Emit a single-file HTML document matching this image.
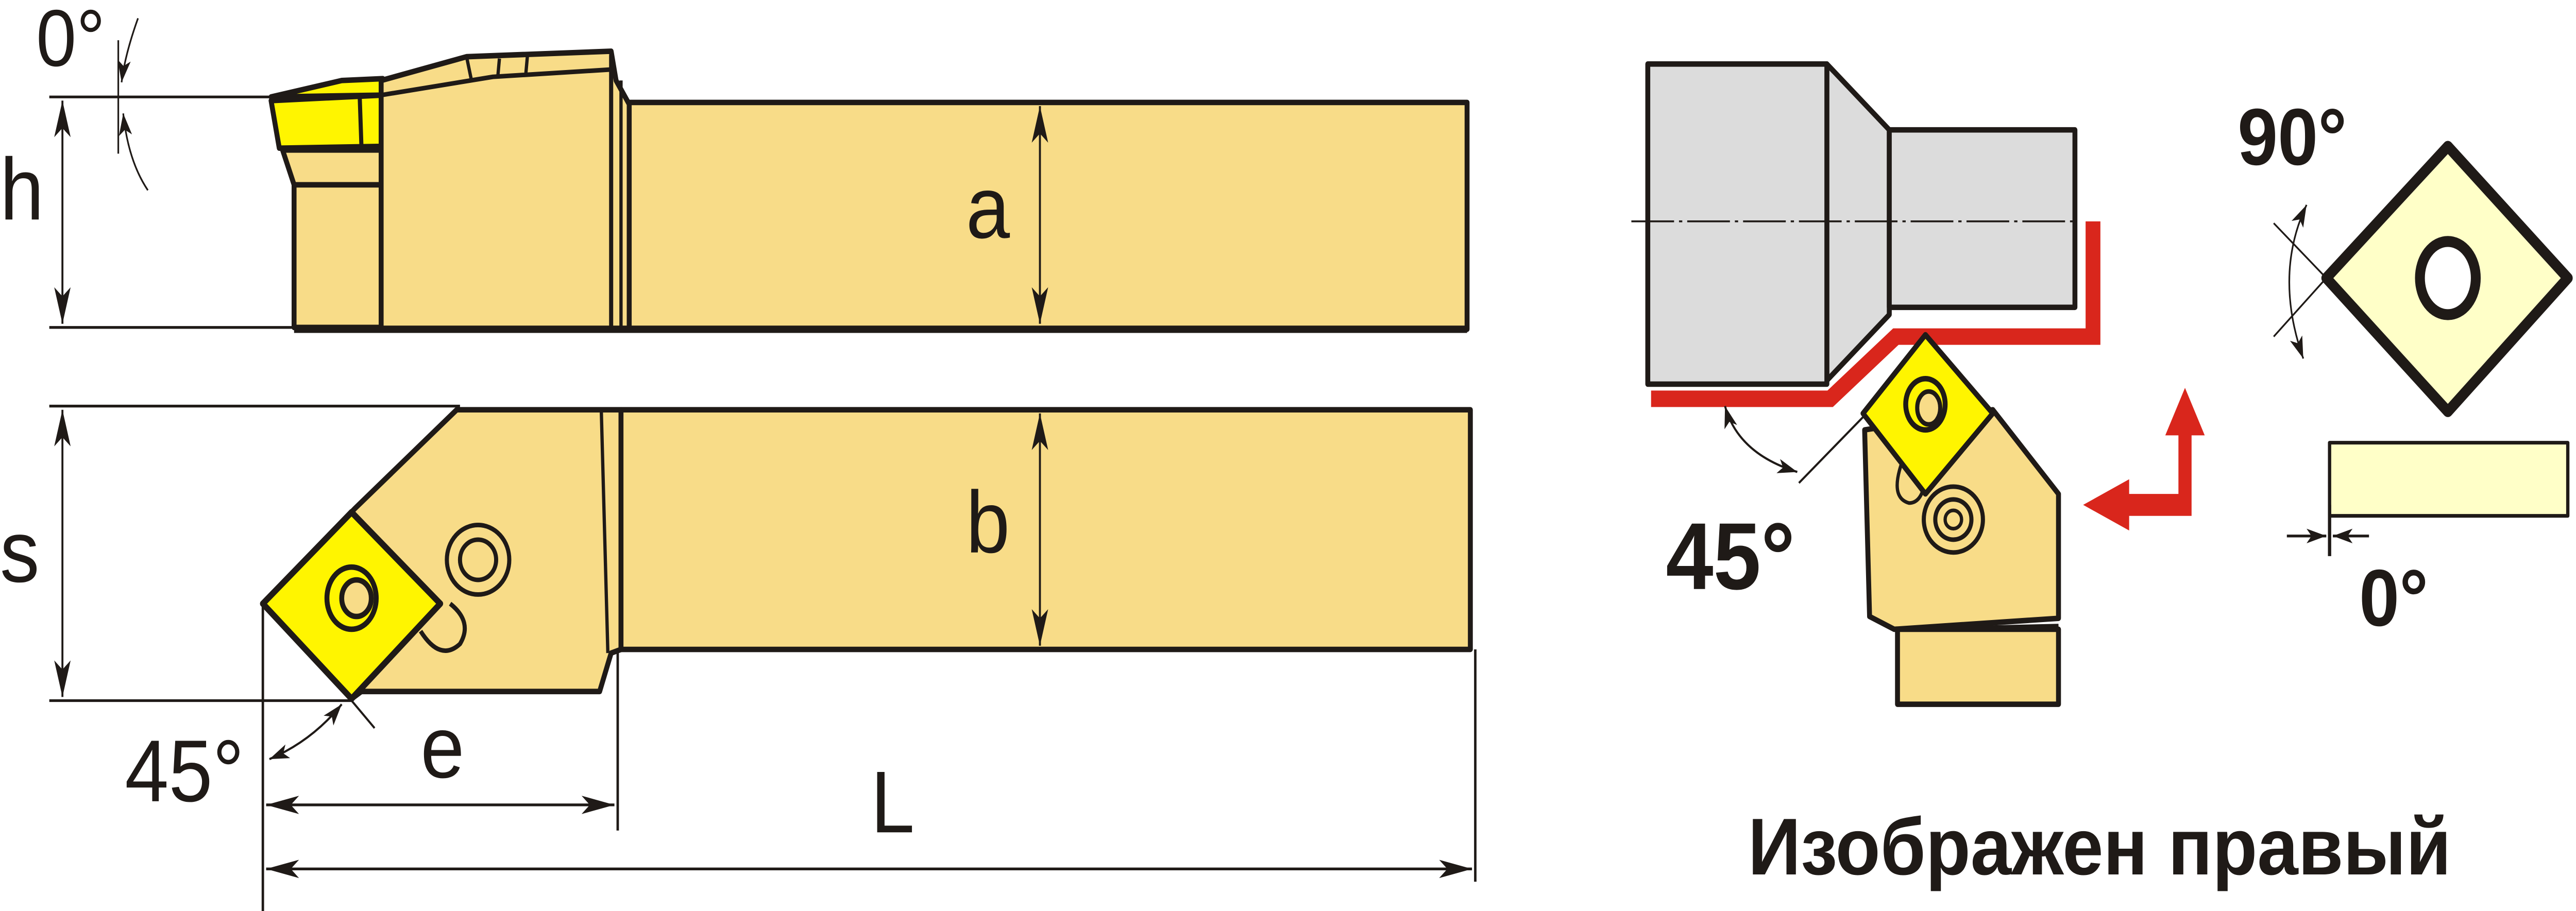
<!DOCTYPE html>
<html><head><meta charset="utf-8"><style>html,body{margin:0;padding:0;background:#fff;overflow:hidden;width:100vw;height:100vh}svg{display:block;width:100vw;height:100vh;position:absolute;left:0;top:0}</style></head>
<body>
<svg viewBox="0 0 1568 498" preserveAspectRatio="none" xmlns="http://www.w3.org/2000/svg" font-family="Liberation Sans, sans-serif">
<defs>
<marker id="ar" viewBox="0 0 20 10" refX="20" refY="5" markerWidth="20" markerHeight="10" markerUnits="userSpaceOnUse" orient="auto-start-reverse"><path d="M0,0 L20,5 L0,10 L5,5 Z" fill="#1f1a17"/></marker>
<marker id="as" viewBox="0 0 12 8" refX="12" refY="4" markerWidth="12" markerHeight="8" markerUnits="userSpaceOnUse" orient="auto-start-reverse"><path d="M0,0 L12,4 L0,8 L3,4 Z" fill="#1f1a17"/></marker>
</defs>
<g stroke="#1f1a17" stroke-linejoin="round">
<line x1="30" y1="53" x2="168" y2="53" stroke-width="1.5"/>
<line x1="30" y1="179" x2="180" y2="179" stroke-width="1.5"/>
<line x1="38" y1="55" x2="38" y2="177" stroke-width="1.2" marker-start="url(#ar)" marker-end="url(#ar)"/>
<path d="M72,53 L72,22 M72,53 L72,84" stroke-width="1" fill="none"/>
<path d="M84,10 Q76,30 74,45" stroke-width="1" fill="none" marker-end="url(#as)"/>
<path d="M90,104 Q78,88 75,62" stroke-width="1" fill="none" marker-end="url(#as)"/>
<polygon points="179,101 232,101 232,179 179,179" fill="#f8dc88" stroke-width="3"/>
<polygon points="172,82 232,82 232,101 179,101" fill="#f8dc88" stroke-width="3"/>
<polygon points="165,53 208,44 233,43 233,52" fill="#fff500" stroke-width="3"/>
<polygon points="165,55 233,52 233,80 170,81" fill="#fff500" stroke-width="3"/>
<line x1="219" y1="54" x2="220" y2="80" stroke-width="2.5"/>
<polygon points="232,44 284,31 372,28 375,44 383,57 383,180 232,180" fill="#f8dc88" stroke-width="3"/>
<polyline points="232,52 300,42 372,38" fill="none" stroke-width="2.5"/>
<line x1="284" y1="31" x2="287" y2="44" stroke-width="2"/>
<line x1="304" y1="32" x2="303" y2="42" stroke-width="2"/>
<line x1="321" y1="31" x2="320" y2="41" stroke-width="2"/>
<line x1="372" y1="30" x2="372" y2="180" stroke-width="2.5"/>
<line x1="378" y1="44" x2="378" y2="180" stroke-width="2"/>
<rect x="383" y="56" width="510" height="124" fill="#f8dc88" stroke-width="3"/>
<line x1="179" y1="180" x2="893" y2="180" stroke-width="4"/>
<line x1="633" y1="58" x2="633" y2="177" stroke-width="1.2" marker-start="url(#ar)" marker-end="url(#ar)"/>

<line x1="30" y1="222" x2="280" y2="222" stroke-width="1.5"/>
<line x1="30" y1="383" x2="214" y2="383" stroke-width="1.5"/>
<line x1="38" y1="224" x2="38" y2="381" stroke-width="1.2" marker-start="url(#ar)" marker-end="url(#ar)"/>
<polygon points="278,224 378,224 378,355 372,357 365,378 220,378 214,382 160,330 216,278" fill="#f8dc88" stroke-width="3"/>
<line x1="366" y1="224" x2="370" y2="357" stroke-width="2"/>
<rect x="378" y="224" width="517" height="131" fill="#f8dc88" stroke-width="3"/>
<circle cx="291" cy="306" r="19" fill="none" stroke-width="2.5"/>
<circle cx="291" cy="306" r="11" fill="none" stroke-width="2.5"/>
<path d="M256,345 Q268,362 280,352 Q288,340 274,330" fill="none" stroke-width="2.5"/>
<polygon points="214,280 268,330 214,382 160,330" fill="#fff500" stroke-width="3.5"/>
<ellipse cx="214" cy="327" rx="15" ry="17" fill="none" stroke-width="3"/>
<ellipse cx="217" cy="327" rx="9" ry="10" fill="#f8dc88" stroke-width="3"/>
<line x1="633" y1="226" x2="633" y2="353" stroke-width="1.2" marker-start="url(#ar)" marker-end="url(#ar)"/>
<line x1="160" y1="330" x2="160" y2="498" stroke-width="1.5"/>
<line x1="376" y1="357" x2="376" y2="454" stroke-width="1.5"/>
<line x1="898" y1="355" x2="898" y2="482" stroke-width="1.5"/>
<line x1="214" y1="383" x2="228" y2="398" stroke-width="1.2"/>
<path d="M164,415 Q190,405 208,385" fill="none" stroke-width="1.2" marker-start="url(#as)" marker-end="url(#as)"/>
<line x1="162" y1="440" x2="374" y2="440" stroke-width="1.5" marker-start="url(#ar)" marker-end="url(#ar)"/>
<line x1="162" y1="475" x2="896" y2="475" stroke-width="1.5" marker-start="url(#ar)" marker-end="url(#ar)"/>
</g>
<g fill="#1f1a17" font-size="48">
<text x="0" y="120">h</text>
<text x="22" y="36" font-size="44">0°</text>
<text x="588" y="130">a</text>
<text x="0" y="318">s</text>
<text x="588" y="302">b</text>
<text x="76" y="438">45°</text>
<text x="256" y="425">e</text>
<text x="530" y="455">L</text>
</g>

<g stroke="#1f1a17" stroke-linejoin="round">
<polyline points="1003,214 1112,214 1152,180 1272,180 1272,117" fill="none" stroke="#d9261c" stroke-width="9" stroke-linejoin="miter" transform="translate(2,4)"/>
<polygon points="1112,35 1150,71 1150,172 1112,208" fill="#dcdcdc" stroke-width="3"/>
<rect x="1003" y="35" width="109" height="175" fill="#dcdcdc" stroke-width="3"/>
<rect x="1150" y="71" width="113" height="97" fill="#dcdcdc" stroke-width="3"/>
<line x1="993" y1="121" x2="1265" y2="121" stroke-width="1" stroke-dasharray="26,3,2,3"/>
<polygon points="1135,235 1138,337 1153,344 1253,338 1253,270 1213,224" fill="#f8dc88" stroke-width="3"/>
<rect x="1155" y="344" width="98" height="41" fill="#f8dc88" stroke-width="3"/>
<line x1="1153" y1="344" x2="1253" y2="342" stroke-width="2"/>
<circle cx="1189" cy="284" r="18" fill="none" stroke-width="2.5"/>
<circle cx="1189" cy="284" r="11" fill="none" stroke-width="2.5"/>
<circle cx="1189" cy="284" r="5" fill="none" stroke-width="2"/>
<path d="M1158,252 Q1150,272 1162,275 Q1170,275 1172,262" fill="none" stroke-width="2"/>
<polygon points="1172,183 1213,226 1172,270 1134,226" fill="#fff500" stroke-width="3"/>
<ellipse cx="1172" cy="221" rx="12" ry="14" fill="none" stroke-width="3"/>
<ellipse cx="1174" cy="223" rx="7" ry="9" fill="#f8dc88" stroke-width="2.5"/>
<line x1="1095" y1="264" x2="1134" y2="228" stroke-width="1.2"/>
<path d="M1050,222 Q1058,248 1094,258" fill="none" stroke-width="1.2" marker-start="url(#as)" marker-end="url(#as)"/>
</g>
<text x="1014" y="322" font-size="52" font-weight="bold" fill="#1f1a17">45°</text>
<g fill="#d9261c">
<polygon points="1326,275 1326,238 1318,238 1330,212 1342,238 1334,238 1334,282 1296,282 1296,290 1268,276 1296,262 1296,270 1326,270"/>
</g>
<g stroke="#1f1a17" stroke-linejoin="round">
<polygon points="1490,80 1563,152 1490,225 1416,152" fill="#ffffc8" stroke-width="6"/>
<ellipse cx="1490" cy="152" rx="17" ry="20" fill="#fff" stroke-width="6"/>
<line x1="1416" y1="152" x2="1384" y2="122" stroke-width="1"/>
<line x1="1416" y1="152" x2="1384" y2="184" stroke-width="1"/>
<path d="M1404,112 Q1384,150 1402,196" fill="none" stroke-width="1" marker-start="url(#as)" marker-end="url(#as)"/>
<rect x="1418" y="242" width="145" height="40" fill="#ffffc8" stroke-width="2"/>
<line x1="1418" y1="276" x2="1418" y2="304" stroke-width="2"/>
<line x1="1392" y1="293" x2="1416" y2="293" stroke-width="1.5" marker-end="url(#as)"/>
<line x1="1442" y1="293" x2="1420" y2="293" stroke-width="1.5" marker-end="url(#as)"/>
</g>
<text x="1362" y="90" font-size="44" font-weight="bold" fill="#1f1a17">90°</text>
<text x="1436" y="342" font-size="44" font-weight="bold" fill="#1f1a17">0°</text>
<text x="1064" y="478" font-size="44" font-weight="bold" fill="#1f1a17" textLength="428" lengthAdjust="spacingAndGlyphs">Изображен правый</text>
</svg>
</body></html>
